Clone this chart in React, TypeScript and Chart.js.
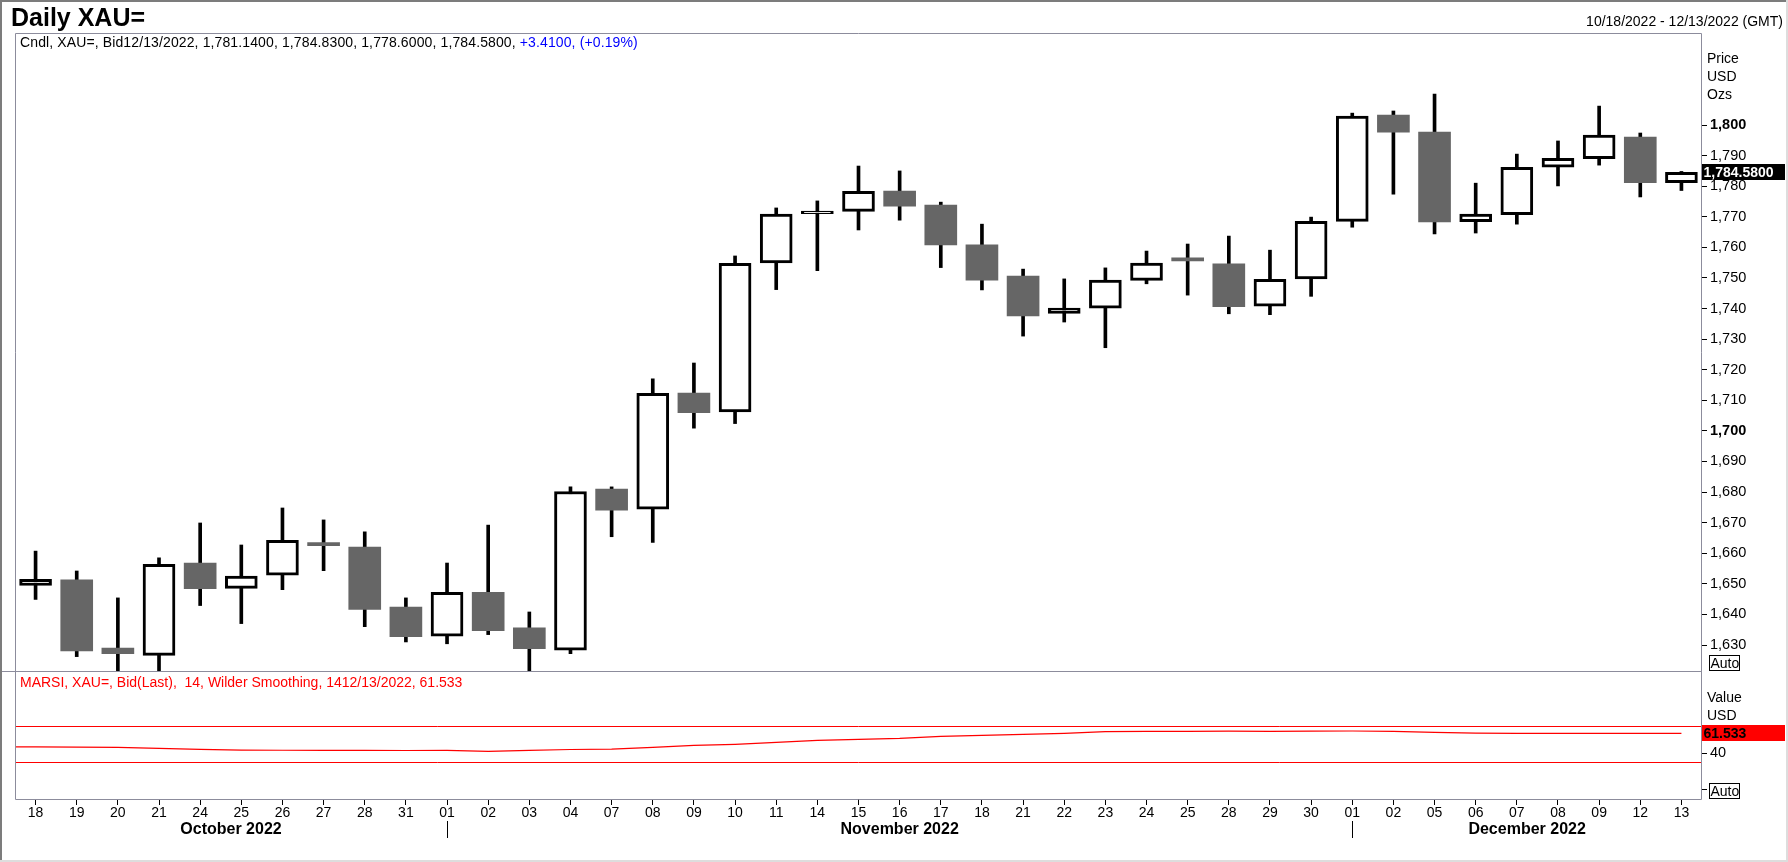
import React, { useEffect, useRef } from 'react';
import { Chart, registerables } from 'chart.js';

Chart.register(...registerables);

const FONT = "'Liberation Sans', Arial, Helvetica, sans-serif";
Chart.defaults.font.family = FONT;
Chart.defaults.font.size = 14;
Chart.defaults.color = '#000';

// ---------- data ----------
const dates = [
  '2022-10-18', '2022-10-19', '2022-10-20', '2022-10-21', '2022-10-24', '2022-10-25', '2022-10-26', '2022-10-27', '2022-10-28', '2022-10-31',
  '2022-11-01', '2022-11-02', '2022-11-03', '2022-11-04', '2022-11-07', '2022-11-08', '2022-11-09', '2022-11-10', '2022-11-11', '2022-11-14',
  '2022-11-15', '2022-11-16', '2022-11-17', '2022-11-18', '2022-11-21', '2022-11-22', '2022-11-23', '2022-11-24', '2022-11-25', '2022-11-28',
  '2022-11-29', '2022-11-30', '2022-12-01', '2022-12-02', '2022-12-05', '2022-12-06', '2022-12-07', '2022-12-08', '2022-12-09', '2022-12-12',
  '2022-12-13',
];

const opens = [
  1649.5, 1651.3, 1629.0, 1626.6, 1656.8, 1648.5, 1652.8, 1663.5, 1662.0, 1642.4,
  1632.9, 1647.2, 1635.6, 1628.3, 1681.0, 1674.4, 1712.4, 1706.2, 1754.9, 1771.0,
  1771.8, 1778.4, 1773.8, 1760.8, 1750.6, 1738.4, 1740.1, 1749.2, 1756.6, 1754.6,
  1740.8, 1749.7, 1768.5, 1803.3, 1797.7, 1768.4, 1770.7, 1786.2, 1789.0, 1796.1,
  1781.14,
];
const highs = [
  1660.7, 1654.2, 1645.4, 1658.5, 1669.9, 1662.7, 1674.8, 1670.9, 1667.0, 1645.4,
  1656.8, 1669.2, 1640.8, 1681.7, 1681.7, 1717.0, 1722.2, 1757.2, 1772.9, 1775.2,
  1786.6, 1785.0, 1774.8, 1767.6, 1752.9, 1749.7, 1753.3, 1758.8, 1761.1, 1763.7,
  1759.1, 1769.9, 1803.9, 1804.6, 1810.1, 1781.0, 1790.5, 1794.8, 1806.2, 1797.4,
  1784.83,
];
const lows = [
  1644.9, 1626.2, 1617.0, 1620.0, 1642.9, 1637.0, 1648.1, 1654.3, 1636.0, 1631.0,
  1630.4, 1633.4, 1621.0, 1627.2, 1665.4, 1663.5, 1700.9, 1702.4, 1746.2, 1752.4,
  1765.7, 1768.9, 1753.4, 1746.1, 1731.0, 1735.6, 1727.2, 1748.1, 1744.4, 1738.3,
  1738.0, 1744.0, 1766.6, 1777.4, 1764.4, 1764.7, 1767.6, 1780.1, 1786.9, 1776.5,
  1778.6,
];
const closes = [
  1651.5, 1628.1, 1627.2, 1656.4, 1648.4, 1652.5, 1664.2, 1662.5, 1641.6, 1632.7,
  1647.2, 1634.7, 1628.8, 1680.2, 1674.1, 1712.3, 1706.0, 1754.8, 1770.9, 1771.9,
  1778.3, 1773.5, 1760.8, 1749.3, 1737.6, 1740.2, 1749.3, 1754.9, 1755.6, 1740.6,
  1749.6, 1768.5, 1802.9, 1797.7, 1768.3, 1770.9, 1786.2, 1789.1, 1796.7, 1781.17,
  1784.58,
];

// MARSI line: first value is the session before the visible window (10/17), whose segment enters from the left edge
const rsiPrevDate = '2022-10-17';
const rsiValues = [
  47.0,
  46.9, 46.7, 46.4, 45.3, 44.2, 43.3, 43.2, 43.1, 43.0, 42.9,
  43.0, 42.0, 43.1, 44.0, 44.4, 46.4, 48.5, 49.7, 51.8, 54.0,
  55.1, 56.2, 58.3, 59.5, 60.6, 61.7, 63.6, 63.8, 63.9, 64.0,
  63.9, 64.1, 64.2, 63.9, 62.8, 61.8, 61.7, 61.7, 61.6, 61.6,
  61.533,
];
const rsiLevels = [70, 30];

const priceTicks = [1630, 1640, 1650, 1660, 1670, 1680, 1690, 1700, 1710, 1720, 1730, 1740, 1750, 1760, 1770, 1780, 1790, 1800];
const rsiTicks = [0, 40];
const monthNames = ['January', 'February', 'March', 'April', 'May', 'June', 'July', 'August', 'September', 'October', 'November', 'December'];

// ---------- layout constants ----------
const W = 1788;
const H = 862;
const PRICE_MIN = 1621.5;
const PRICE_MAX = 1830.1;
const RSI_MIN = -10.1;
const RSI_MAX = 129.8;
const FRAME = '#8c8c9c';
const UP_FILL = '#ffffff';
const DOWN_FILL = '#666666';

const dayLabels = dates.map((d) => d.slice(8, 10));
const rsiLabels = [rsiPrevDate.slice(8, 10), ...dayLabels];
const RSI_LEAD = rsiLabels.length - dayLabels.length;
const last = dates.length - 1;
const isUp = (i: number) => closes[i] >= opens[i];
const fmt = (v: number, d: number) =>
  v.toLocaleString('en-US', { minimumFractionDigits: d, maximumFractionDigits: d });
const usDate = (d: string) => `${d.slice(5, 7)}/${d.slice(8, 10)}/${d.slice(0, 4)}`;

function text(ctx: CanvasRenderingContext2D, s: string, x: number, y: number, font: string, color: string, align: CanvasTextAlign = 'left') {
  ctx.font = font;
  ctx.fillStyle = color;
  ctx.textAlign = align;
  ctx.textBaseline = 'alphabetic';
  ctx.fillText(s, x, y);
}

function autoBox(ctx: CanvasRenderingContext2D, x: number, y: number) {
  ctx.font = `14px ${FONT}`;
  const w = Math.round(ctx.measureText('Auto').width) + 1;
  ctx.strokeStyle = '#000';
  ctx.lineWidth = 1;
  ctx.fillStyle = '#fff';
  ctx.fillRect(x, y, w, 15);
  ctx.strokeRect(x + 0.5, y + 0.5, w, 15);
  text(ctx, 'Auto', x + 1.5, y + 13, `14px ${FONT}`, '#000');
}

const mainPlugin = {
  id: 'mainDecor',
  beforeDraw(chart: any) {
    const { ctx } = chart;
    ctx.save();
    ctx.fillStyle = '#fff';
    ctx.fillRect(0, 0, chart.width, chart.height);
    ctx.restore();
  },
  afterDraw(chart: any) {
    const { ctx, chartArea: ca } = chart;
    const y = chart.scales.y;
    ctx.save();
    // outer frame
    ctx.fillStyle = '#7c7c7c';
    ctx.fillRect(0, 0, W, 2);
    ctx.fillRect(0, 0, 2, H);
    ctx.fillStyle = '#dddddd';
    ctx.fillRect(0, H - 2, W, 2);
    ctx.fillRect(W - 2, 0, 2, H);
    // panel frame
    ctx.strokeStyle = FRAME;
    ctx.lineWidth = 1;
    ctx.beginPath();
    ctx.moveTo(ca.left + 0.5, ca.bottom);
    ctx.lineTo(ca.left + 0.5, ca.top + 0.5);
    ctx.lineTo(ca.right - 0.5, ca.top + 0.5);
    ctx.lineTo(ca.right - 0.5, ca.bottom);
    ctx.moveTo(2, ca.bottom + 0.5);
    ctx.lineTo(ca.right, ca.bottom + 0.5);
    ctx.stroke();

    // title and headers
    text(ctx, 'Daily XAU=', 11, 26, `bold 25px ${FONT}`, '#000');
    text(ctx, `${usDate(dates[0])} - ${usDate(dates[last])} (GMT)`, 1783, 26, `14px ${FONT}`, '#000', 'right');

    const change = closes[last] - closes[last - 1];
    const pct = (change / closes[last - 1]) * 100;
    const part1 = `Cndl, XAU=, Bid${usDate(dates[last])}, ${fmt(opens[last], 4)}, ${fmt(highs[last], 4)}, ${fmt(lows[last], 4)}, ${fmt(closes[last], 4)}, `;
    const sign = change >= 0 ? '+' : '';
    const part2 = `${sign}${fmt(change, 4)}, (${sign}${fmt(pct, 2)}%)`;
    (ctx as any).letterSpacing = '0.12px';
    ctx.font = `14px ${FONT}`;
    const w1 = ctx.measureText(part1).width;
    text(ctx, part1, 20, 47, `14px ${FONT}`, '#000');
    text(ctx, part2, 20 + w1, 47, `14px ${FONT}`, '#0000ff');
    (ctx as any).letterSpacing = '0px';

    // axis caption
    text(ctx, 'Price', ca.right + 5, 63, `14px ${FONT}`, '#000');
    text(ctx, 'USD', ca.right + 5, 81, `14px ${FONT}`, '#000');
    text(ctx, 'Ozs', ca.right + 5, 99, `14px ${FONT}`, '#000');

    // last price box
    const yc = y.getPixelForValue(closes[last]);
    ctx.fillStyle = '#000';
    ctx.fillRect(ca.right, Math.round(yc) - 8, 83, 16);
    text(ctx, fmt(closes[last], 4), ca.right + 1.5, Math.round(yc) + 5, `bold 14px ${FONT}`, '#fff');

    autoBox(ctx, ca.right + 7, ca.bottom - 16);
    ctx.restore();
  },
};

const rsiPlugin = {
  id: 'rsiDecor',
  afterDraw(chart: any) {
    const { ctx, chartArea: ca } = chart;
    const y = chart.scales.y;
    const x = chart.scales.x;
    ctx.save();
    // frame
    ctx.strokeStyle = FRAME;
    ctx.lineWidth = 1;
    ctx.beginPath();
    ctx.moveTo(ca.left + 0.5, ca.top);
    ctx.lineTo(ca.left + 0.5, ca.bottom + 0.5);
    ctx.lineTo(ca.right - 0.5, ca.bottom + 0.5);
    ctx.lineTo(ca.right - 0.5, ca.top);
    ctx.stroke();

    // level lines
    ctx.strokeStyle = '#ff0000';
    ctx.lineWidth = 1;
    rsiLevels.forEach((lv) => {
      const yy = Math.round(y.getPixelForValue(lv)) + 0.5;
      ctx.beginPath();
      ctx.moveTo(ca.left + 1, yy);
      ctx.lineTo(ca.right - 1, yy);
      ctx.stroke();
    });

    // header
    const lastRsi = rsiValues[rsiValues.length - 1];
    text(ctx, `MARSI, XAU=, Bid(Last),  14, Wilder Smoothing, 14${usDate(dates[last])}, ${fmt(lastRsi, 3)}`, 20, 687, `14px ${FONT}`, '#ff0000');

    text(ctx, 'Value', ca.right + 5, 702, `14px ${FONT}`, '#000');
    text(ctx, 'USD', ca.right + 5, 720, `14px ${FONT}`, '#000');

    const yc = Math.round(y.getPixelForValue(lastRsi));
    ctx.fillStyle = '#ff0000';
    ctx.fillRect(ca.right, yc - 8, 83, 16);
    text(ctx, fmt(lastRsi, 3), ca.right + 1.5, yc + 5, `bold 14px ${FONT}`, '#000');

    autoBox(ctx, ca.right + 7, ca.bottom - 16);

    // month labels and separators
    const groups: { start: number; end: number; label: string }[] = [];
    dates.forEach((d, i) => {
      const key = d.slice(0, 7);
      if (i === 0 || key !== dates[i - 1].slice(0, 7)) {
        groups.push({ start: i, end: i, label: `${monthNames[parseInt(d.slice(5, 7), 10) - 1]} ${d.slice(0, 4)}` });
      } else {
        groups[groups.length - 1].end = i;
      }
    });
    groups.forEach((g, gi) => {
      const x0 = gi === 0 ? ca.left : x.getPixelForValue(g.start + RSI_LEAD);
      const x1 = gi === groups.length - 1 ? ca.right : x.getPixelForValue(groups[gi + 1].start + RSI_LEAD);
      text(ctx, g.label, (x0 + x1) / 2, 834, `bold 16px ${FONT}`, '#000', 'center');
      if (gi > 0) {
        const sx = Math.round(x0) + 0.5;
        ctx.strokeStyle = '#000';
        ctx.lineWidth = 1;
        ctx.beginPath();
        ctx.moveTo(sx, 821);
        ctx.lineTo(sx, 838);
        ctx.stroke();
      }
    });
    ctx.restore();
  },
};

export default function App() {
  const mainRef = useRef<HTMLCanvasElement>(null);
  const rsiRef = useRef<HTMLCanvasElement>(null);

  useEffect(() => {
    const main = new Chart(mainRef.current as HTMLCanvasElement, {
      type: 'bar',
      data: {
        labels: dayLabels,
        datasets: [
          {
            label: 'Wick',
            data: lows.map((l, i) => [l, highs[i]]) as any,
            backgroundColor: '#000',
            borderWidth: 0,
            barThickness: 3,
            grouped: false,
            order: 2,
          } as any,
          {
            label: 'Body',
            data: opens.map((o, i) => [o, closes[i]]) as any,
            backgroundColor: (c: any) => (isUp(c.dataIndex) ? UP_FILL : DOWN_FILL),
            borderColor: '#000',
            borderWidth: (c: any) => (isUp(c.dataIndex) ? 3 : 0),
            borderSkipped: false,
            barThickness: 32,
            grouped: false,
            order: 1,
          } as any,
        ],
      },
      options: {
        responsive: false,
        maintainAspectRatio: false,
        animation: false,
        events: [],
        layout: { padding: { left: 15, top: 33, right: 0, bottom: 191 } },
        plugins: { legend: { display: false }, tooltip: { enabled: false }, title: { display: false } },
        scales: {
          x: { type: 'category', display: false, offset: true },
          y: {
            type: 'linear',
            position: 'right',
            min: PRICE_MIN,
            max: PRICE_MAX,
            afterBuildTicks: (s: any) => {
              s.ticks = priceTicks.map((v) => ({ value: v }));
            },
            afterFit: (s: any) => {
              s.width = 86;
            },
            grid: { display: true, drawOnChartArea: false, drawTicks: true, tickLength: 5, color: '#000', lineWidth: 1 },
            border: { display: false },
            ticks: {
              padding: 3,
              color: '#000',
              font: (c: any) => ({ size: 14.5, family: FONT, weight: c.tick && c.tick.value % 100 === 0 ? 'bold' : 'normal' }),
              callback: (v: any) => Number(v).toLocaleString('en-US'),
            },
          },
        },
      } as any,
      plugins: [mainPlugin],
    });

    const rsi = new Chart(rsiRef.current as HTMLCanvasElement, {
      type: 'line',
      data: {
        labels: rsiLabels,
        datasets: [
          {
            label: 'MARSI',
            data: rsiValues,
            borderColor: '#ff0000',
            borderWidth: 1.2,
            pointRadius: 0,
            tension: 0,
            fill: false,
          },
        ],
      },
      options: {
        responsive: false,
        maintainAspectRatio: false,
        animation: false,
        events: [],
        layout: { padding: { left: 15, top: 671, right: 0, bottom: 0 } },
        plugins: { legend: { display: false }, tooltip: { enabled: false }, title: { display: false } },
        scales: {
          x: {
            type: 'category',
            offset: true,
            min: RSI_LEAD,
            max: rsiLabels.length - 1,
            afterFit: (s: any) => {
              s.height = 63;
            },
            grid: { display: true, drawOnChartArea: false, drawTicks: true, tickLength: 6, color: '#000', offset: false },
            border: { display: false },
            ticks: { autoSkip: false, maxRotation: 0, minRotation: 0, padding: 0, color: '#000', font: { size: 14, family: FONT } },
          },
          y: {
            type: 'linear',
            position: 'right',
            min: RSI_MIN,
            max: RSI_MAX,
            afterBuildTicks: (s: any) => {
              s.ticks = rsiTicks.map((v) => ({ value: v }));
            },
            afterFit: (s: any) => {
              s.width = 86;
            },
            grid: { display: true, drawOnChartArea: false, drawTicks: true, tickLength: 5, color: '#000' },
            border: { display: false },
            ticks: {
              padding: 3,
              color: '#000',
              font: { size: 14.5, family: FONT },
              callback: (v: any) => (Number(v) === 0 ? '' : String(v)),
            },
          },
        },
      } as any,
      plugins: [rsiPlugin],
    });

    return () => {
      main.destroy();
      rsi.destroy();
    };
  }, []);

  const canvasStyle: React.CSSProperties = { position: 'absolute', left: 0, top: 0, width: W, height: H };
  return (
    <div style={{ position: 'absolute', left: 0, top: 0, width: W, height: H, background: '#fff', overflow: 'hidden' }}>
      <canvas ref={mainRef} width={W} height={H} style={canvasStyle} />
      <canvas ref={rsiRef} width={W} height={H} style={canvasStyle} />
    </div>
  );
}
